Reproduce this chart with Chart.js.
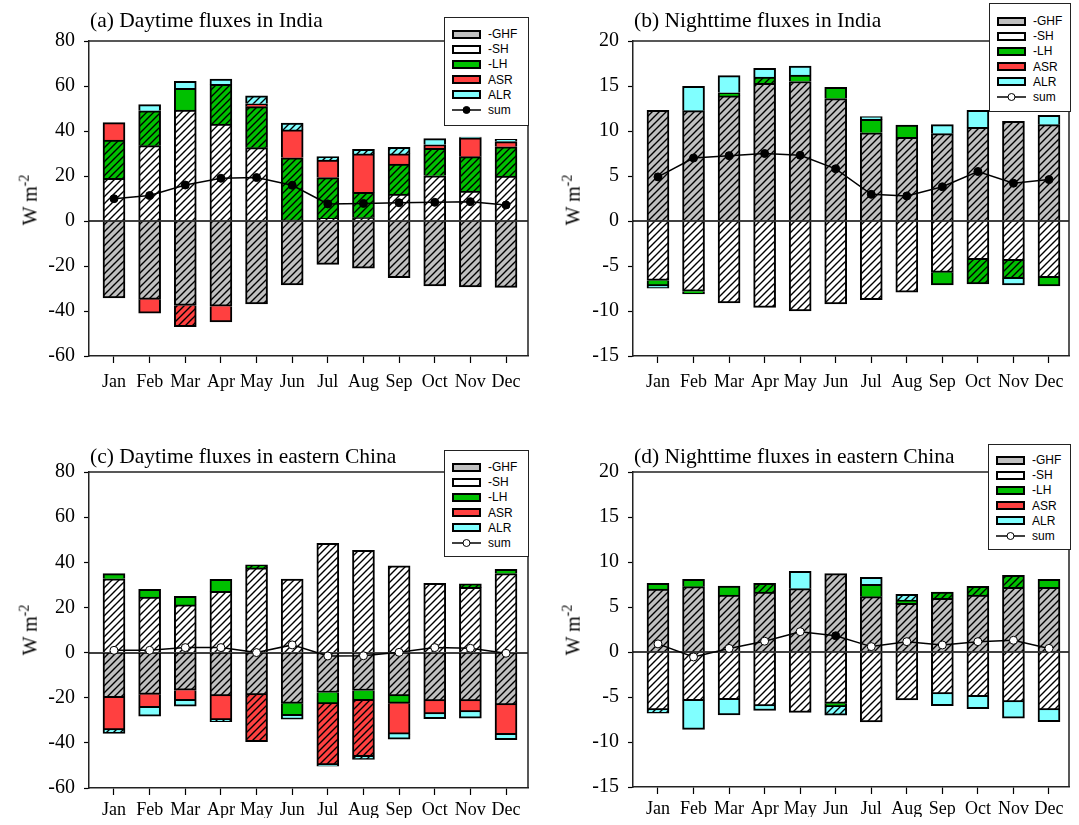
<!DOCTYPE html>
<html>
<head>
<meta charset="utf-8">
<script src="https://cdn.jsdelivr.net/npm/chart.js@4.4.1/dist/chart.umd.min.js"></script>
<style>
body { margin:0; background:#fff; width:1079px; height:825px; position:relative; overflow:hidden; }
.title { position:absolute; font:21.5px "Liberation Serif", serif; white-space:nowrap; line-height:22px; color:#000; }
.ylab { position:absolute; font:20px "Liberation Serif", serif; white-space:nowrap; transform:translate(-50%,-50%) rotate(-90deg); color:#000; }
.ylab sup { font-size:14px; }
.leg { position:absolute; background:#fff; border:1.5px solid #222; box-sizing:border-box; font:12px "Liberation Sans", Arial, sans-serif; color:#000; }
.row { position:absolute; height:14px; display:flex; align-items:center; white-space:nowrap; }
.sw { width:25px; height:5px; border:2px solid #000; margin-right:7px; }
.row svg { margin-right:7px; }
</style>
</head>
<body>
<script>
const months = ['Jan','Feb','Mar','Apr','May','Jun','Jul','Aug','Sep','Oct','Nov','Dec'];
const dayTicks = [-60,-40,-20,0,20,40,60,80];
const nightTicks = [-15,-10,-5,0,5,10,15,20];

// (a) daytime, India (W m-2)
const aGHF = [-34.2,-34.8,-37.5,-37.9,-36.9,-28.4,-19.3,-21,-25.2,-28.9,-29.3,-29.5];
const aSH  = [19,33.5,49.3,43.1,32.6,0.5,1.2,1.5,12,20.1,13.3,20];
const aLH  = [17,15.5,9.7,17.6,18.2,27.6,18.1,11.2,13.3,12.2,15.3,13];
const aASR = [7.7,-6.2,-9.5,-7,1.3,12.4,7.8,17.1,4.5,1.6,8.4,2.3];
const aALR = [0,2.7,3.1,2.4,3.5,3,1.5,2.1,2.9,2.7,0.3,1];
const aSum = [9.9,11.3,16,19,19.3,15.9,7.6,7.8,8.1,8.3,8.6,7.1];
// significance (1 = hatched / filled marker)
const aLHsig  = [1,1,0,1,1,1,1,1,1,1,1,1];
const aASRsig = [0,0,1,0,0,0,0,0,0,0,0,0];
const aALRsig = [0,0,0,0,1,1,1,1,1,0,0,0];
const aSumSig = [1,1,1,1,1,1,1,1,1,1,1,1];

// (b) nighttime, India
const bGHF = [12.3,12.26,13.9,15.3,15.5,13.6,9.8,9.3,9.7,10.4,11.07,10.7];
const bSH  = [-6.6,-7.8,-9.1,-9.6,-10,-9.2,-8.75,-7.9,-5.7,-4.3,-4.4,-6.3];
const bLH  = [-0.6,-0.3,0.35,0.7,0.7,1.25,1.5,1.37,-1.4,-2.7,-2.0,-0.9];
const bASR = [0,0,0,0,0,0,0,0,0,0,0,0];
const bALR = [-0.25,2.7,1.9,0.96,1.0,0,0.3,0,1.0,1.9,-0.7,1.04];
const bSum = [4.9,7.0,7.26,7.5,7.3,5.8,2.96,2.78,3.8,5.5,4.2,4.6];
const bLHsig  = [0,0,0,1,0,0,0,0,0,1,1,0];
const bASRsig = [0,0,0,0,0,0,0,0,0,0,0,0];
const bALRsig = [0,0,0,0,0,0,0,0,0,0,0,0];
const bSumSig = [1,1,1,1,1,1,1,1,1,1,1,1];

// (c) daytime, eastern China
const cGHF = [-20,-18.5,-16.7,-19.2,-18.8,-22.5,-17.7,-16.8,-19.2,-21.4,-21.4,-23.2];
const cSH  = [32.7,24.6,21.1,27.1,37.5,32.6,48.4,45.3,38.4,30.7,28.9,35];
const cLH  = [2.3,3.4,3.8,5.4,1.4,-5.5,-5.1,-4.5,-3.3,0,1.5,1.9];
const cASR = [-14.3,-5.9,-4.6,-10.6,-20.7,0,-27,-24.8,-13.6,-5.8,-4.9,-13.2];
const cALR = [-1.5,-3.8,-2.4,-0.8,0,-1.5,-0.5,-1.2,-2.3,-2.1,-2.8,-2.2];
const cSum = [1.0,1.0,2.2,2.2,0,3.4,-1.5,-1.4,0.1,2.2,1.9,-0.3];
const cLHsig  = [0,0,0,0,1,0,0,0,0,0,1,0];
const cASRsig = [0,0,0,0,1,0,1,1,0,0,0,0];
const cALRsig = [1,0,0,1,0,0,0,1,0,0,0,0];
const cSumSig = [0,0,0,0,0,0,0,0,0,0,0,0];

// (d) nighttime, eastern China
const dGHF = [7.0,7.26,6.33,6.67,7.04,8.7,6.15,5.4,5.96,6.33,7.19,7.19];
const dSH  = [-6.44,-5.4,-5.3,-6.0,-6.7,-5.7,-7.78,-5.33,-4.67,-4.96,-5.56,-6.44];
const dLH  = [0.63,0.81,1.0,0.96,0,-0.37,1.37,0.37,0.7,0.96,1.33,0.88];
const dASR = [0,0,0,0,0,0,0,0,0,0,0,0];
const dALR = [-0.37,-3.2,-1.7,-0.5,1.93,-0.96,0.78,0.63,-1.3,-1.33,-1.8,-1.3];
const dSum = [0.9,-0.55,0.4,1.2,2.26,1.8,0.6,1.15,0.78,1.15,1.3,0.4];
const dLHsig  = [0,0,0,1,0,0,0,0,1,1,1,0];
const dASRsig = [0,0,0,0,0,0,0,0,0,0,0,0];
const dALRsig = [1,0,0,0,0,1,0,1,0,0,0,0];
const dSumSig = [0,0,0,0,0,1,0,0,0,0,0,0];

const COL = { ghf:'#c0c0c0', sh:'#ffffff', lh:'#00c000', asr:'#ff4040', alr:'#80ffff' };

// hatched fill (diagonal lines)
const patCache = {};
function hatch(color) {
  if (patCache[color]) return patCache[color];
  const c = document.createElement('canvas');
  c.width = 7; c.height = 7;
  const g = c.getContext('2d');
  g.fillStyle = color; g.fillRect(0, 0, 7, 7);
  g.strokeStyle = '#000'; g.lineWidth = 1.4;
  g.beginPath();
  g.moveTo(-1, 8); g.lineTo(8, -1);
  g.moveTo(-1, 1); g.lineTo(1, -1);
  g.moveTo(6, 8); g.lineTo(8, 6);
  g.stroke();
  patCache[color] = g.createPattern(c, 'repeat');
  return patCache[color];
}

// frame + zero line
const framePlugin = {
  id: 'frame',
  beforeDatasetDraw(chart, args) {
    if (args.meta.type !== 'line') return;
    const { ctx, chartArea: a, scales: { y } } = chart;
    const y0 = Math.round(y.getPixelForValue(0));
    ctx.save();
    ctx.strokeStyle = '#000'; ctx.lineWidth = 1.5;
    ctx.beginPath(); ctx.moveTo(a.left, y0); ctx.lineTo(a.right, y0); ctx.stroke();
    ctx.restore();
  },
  afterDraw(chart) {
    const { ctx, chartArea: a } = chart;
    ctx.save();
    ctx.strokeStyle = '#222'; ctx.lineWidth = 1.5;
    ctx.beginPath();
    ctx.moveTo(a.left, a.top); ctx.lineTo(a.right, a.top); ctx.lineTo(a.right, a.bottom);
    ctx.stroke();
    ctx.restore();
  }
};

function el(tag, cls, css, html) {
  const e = document.createElement(tag);
  if (cls) e.className = cls;
  if (css) e.style.cssText = css;
  if (html) e.innerHTML = html;
  document.body.appendChild(e);
  return e;
}

function makePanel(p) {
  const cv = document.createElement('canvas');
  cv.width = p.w; cv.height = p.h;
  cv.style.cssText = `position:absolute;left:${p.left}px;top:${p.top}px;width:${p.w}px;height:${p.h}px`;
  document.body.appendChild(cv);

  const pts = arr => arr.map((v, i) => ({ x: i + 1, y: v }));
  const bar = (label, vals, color, sig) => ({
    type: 'bar', label, data: pts(vals),
    backgroundColor: vals.map((v, i) => (sig ? sig[i] : 1) ? hatch(color) : color),
    borderColor: '#000', borderWidth: 2, barThickness: 22, stack: 'flux', order: 1
  });

  new Chart(cv, {
    data: {
      datasets: [
        { type: 'line', label: 'sum', data: pts(p.sum), borderColor: '#000', borderWidth: 1.5,
          pointRadius: 4, pointBorderWidth: 1, pointBorderColor: '#000',
          pointBackgroundColor: p.sumSig.map(s => s ? '#000' : '#fff'),
          tension: 0, stack: 'sum', order: 0 },
        bar('-GHF', p.ghf, COL.ghf, null),
        bar('-SH', p.sh, COL.sh, null),
        bar('-LH', p.lh, COL.lh, p.lhSig),
        bar('ASR', p.asr, COL.asr, p.asrSig),
        bar('ALR', p.alr, COL.alr, p.alrSig)
      ]
    },
    options: {
      responsive: false, animation: false, devicePixelRatio: 1,
      layout: { padding: { left: 0, right: p.pr, top: p.pt, bottom: p.pb } },
      plugins: { legend: { display: false }, tooltip: { enabled: false } },
      scales: {
        x: {
          type: 'linear', min: p.xmin, max: p.xmax, offset: false,
          afterBuildTicks: s => { s.ticks = months.map((m, i) => ({ value: i + 1 })); },
          afterFit: s => { s.height = p.xh; },
          ticks: { autoSkip: false, maxRotation: 0, minRotation: 0, padding: p.xpad, color: '#000',
                   font: { family: 'Liberation Serif', size: 18 },
                   callback: v => months[v - 1] },
          grid: { offset: false, drawOnChartArea: false, tickLength: 7, tickColor: '#000', tickWidth: 1.2 },
          border: { color: '#222', width: 1.5 }
        },
        y: {
          type: 'linear', min: p.ticks[0], max: p.ticks[p.ticks.length - 1], stacked: true,
          afterBuildTicks: s => { s.ticks = p.ticks.map(v => ({ value: v })); },
          afterFit: s => { s.width = p.yw; },
          ticks: { padding: 9, color: '#000', font: { family: 'Liberation Serif', size: 20 } },
          grid: { drawOnChartArea: false, tickLength: 5, tickColor: '#000', tickWidth: 1.2 },
          border: { color: '#222', width: 1.5 }
        }
      }
    },
    plugins: [framePlugin]
  });

  el('div', 'title', `left:${p.tx}px;top:${p.ty}px`, p.title);
  el('div', 'ylab', `left:${p.lx}px;top:${p.ly}px`, 'W m<sup>-2</sup>');

  const g = p.leg;
  const box = el('div', 'leg', `left:${g.x}px;top:${g.y}px;width:${g.w}px;height:${g.h}px`);
  const items = [['-GHF', COL.ghf], ['-SH', COL.sh], ['-LH', COL.lh], ['ASR', COL.asr], ['ALR', COL.alr]];
  items.forEach((it, k) => {
    const r = document.createElement('div');
    r.className = 'row';
    r.style.cssText = `left:7px;top:${g.r0 + k * 15.2 - 7}px`;
    r.innerHTML = `<span class="sw" style="background:${it[1]}"></span>${it[0]}`;
    box.appendChild(r);
  });
  const r = document.createElement('div');
  r.className = 'row';
  r.style.cssText = `left:7px;top:${g.r0 + 5 * 15.2 - 7}px`;
  r.innerHTML = `<svg width="29" height="10"><line x1="0" y1="5" x2="29" y2="5" stroke="#000" stroke-width="1.5"/>` +
    `<circle cx="14.5" cy="5" r="3.5" fill="${g.filled ? '#000' : '#fff'}" stroke="#000" stroke-width="1"/></svg>sum`;
  box.appendChild(r);
}

makePanel({ left: 0, top: 0, w: 540, h: 412, yw: 89, pr: 12, pt: 41, pb: 16, xh: 40, xpad: 8,
  xmin: 0.2985, xmax: 12.617, ticks: dayTicks,
  ghf: aGHF, sh: aSH, lh: aLH, asr: aASR, alr: aALR, sum: aSum,
  lhSig: aLHsig, asrSig: aASRsig, alrSig: aALRsig, sumSig: aSumSig,
  title: '(a) Daytime fluxes in India', tx: 90, ty: 9, lx: 29, ly: 200,
  leg: { x: 444, y: 17, w: 85, h: 109, r0: 16, filled: true } });

makePanel({ left: 540, top: 0, w: 539, h: 412, yw: 93, pr: 10, pt: 41, pb: 16, xh: 40, xpad: 8,
  xmin: 0.297, xmax: 12.563, ticks: nightTicks,
  ghf: bGHF, sh: bSH, lh: bLH, asr: bASR, alr: bALR, sum: bSum,
  lhSig: bLHsig, asrSig: bASRsig, alrSig: bALRsig, sumSig: bSumSig,
  title: '(b) Nighttime fluxes in India', tx: 634, ty: 9, lx: 572, ly: 200,
  leg: { x: 989, y: 3, w: 82, h: 109, r0: 17, filled: false } });

makePanel({ left: 0, top: 412, w: 540, h: 413, yw: 89, pr: 12, pt: 60, pb: 7, xh: 30, xpad: 4,
  xmin: 0.2985, xmax: 12.617, ticks: dayTicks,
  ghf: cGHF, sh: cSH, lh: cLH, asr: cASR, alr: cALR, sum: cSum,
  lhSig: cLHsig, asrSig: cASRsig, alrSig: cALRsig, sumSig: cSumSig,
  title: '(c) Daytime fluxes in eastern China', tx: 90, ty: 445, lx: 29, ly: 630,
  leg: { x: 444, y: 450, w: 85, h: 107, r0: 16, filled: false } });

makePanel({ left: 540, top: 412, w: 539, h: 413, yw: 93, pr: 10, pt: 60, pb: 8, xh: 30, xpad: 4,
  xmin: 0.297, xmax: 12.563, ticks: nightTicks,
  ghf: dGHF, sh: dSH, lh: dLH, asr: dASR, alr: dALR, sum: dSum,
  lhSig: dLHsig, asrSig: dASRsig, alrSig: dALRsig, sumSig: dSumSig,
  title: '(d) Nighttime fluxes in eastern China', tx: 634, ty: 445, lx: 572, ly: 630,
  leg: { x: 988, y: 444, w: 83, h: 106, r0: 15, filled: false } });
</script>
</body>
</html>
